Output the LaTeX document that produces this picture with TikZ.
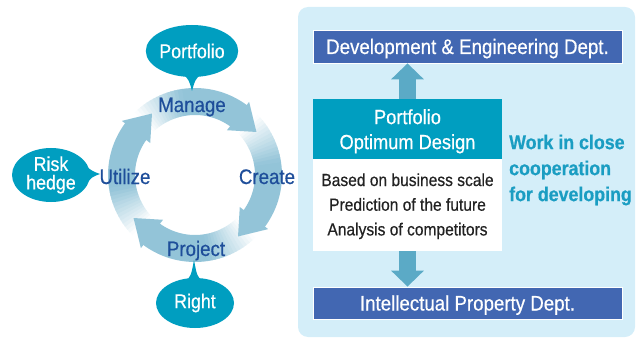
\documentclass[tikz,border=0pt]{standalone}
\usepackage{fontspec}
\setmainfont{Liberation Sans}[FakeStretch=0.89, FakeBold=0.5]
\usetikzlibrary{arrows.meta,shapes.geometric}
\definecolor{ringc}{HTML}{93C4D8}
\definecolor{tealc}{HTML}{009EC0}
\definecolor{deptc}{HTML}{4267B2}
\definecolor{panelc}{HTML}{D4EEF9}
\definecolor{arrc}{HTML}{5BAAC6}
\definecolor{labc}{HTML}{1E4E9A}
\definecolor{workc}{HTML}{1A9DC2}
\definecolor{bodyc}{HTML}{222222}
\begin{document}
\begin{tikzpicture}[x=1pt,y=-1pt,
  bubble/.style={ellipse, fill=tealc, text=white, inner sep=0pt,
    minimum width=78pt, minimum height=52pt, align=center,
    font=\fontsize{20}{18.5}\selectfont},
  ringlab/.style={text=labc, inner sep=0pt, anchor=base,
    font=\fontsize{21}{21}\selectfont},
  dept/.style={rectangle, fill=deptc, draw=white, line width=0.8pt,
    text=white, minimum width=309pt, minimum height=33pt, inner sep=0pt,
    text height=15pt, text depth=0pt, font=\fontsize{21}{21}\selectfont},
  bigarrow/.style={line width=17pt, draw=arrc,
    -{Triangle[width=32pt,length=16pt]}},
  txt/.style={inner sep=0pt}
]
\useasboundingbox (0,0) rectangle (636,339);
% right panel
\fill[panelc, rounded corners=10pt] (298,7) rectangle (635,337);

% ring
\begin{scope}[shift={(195,175)}, yscale=-1]
  \foreach \k in {0,...,3}{
    \pgfmathsetmacro\ta{134-90*\k}
    \pgfmathsetmacro\tb{53-90*\k}
    \pgfmathsetmacro\tf{\ta-35}
    \fill[ringc] (\tf:60) arc[start angle=\tf, end angle=\tb, radius=60]
      -- (\tb:87) arc[start angle=\tb, end angle=\tf, radius=87] -- cycle;
    \foreach \i in {0,...,13}{
      \pgfmathsetmacro\sa{\ta-\i*2.5}
      \pgfmathsetmacro\sb{\sa-3}
      \pgfmathtruncatemacro\p{100*(\i+0.5)/14}
      \fill[ringc!\p!white] (\sa:60) arc[start angle=\sa, end angle=\sb, radius=60]
        -- (\sb:87) arc[start angle=\sb, end angle=\sa, radius=87] -- cycle;
    }
  }
  \foreach \k in {0,...,3}{
    \pgfmathsetmacro\tb{53-90*\k}
    \pgfmathsetmacro\tbi{\tb+1.5}
    \pgfmathsetmacro\tbo{\tb+0.5}
    \pgfmathsetmacro\tt{\tb-18}
    \fill[ringc] (\tbi:55) -- (\tbo:91) -- (\tt:75) -- cycle;
  }
\end{scope}

% ring labels
\node[ringlab] (manage) at (192,112) {Manage};
\node[ringlab] (create) at (267,184) {Create};
\node[ringlab] (project) at (196,256) {Project};
\node[ringlab] (utilize) at (125,184) {Utilize};

% bubbles
\fill[tealc] (183,74) .. controls (189,80) .. (192,91) .. controls (195,80) .. (201,74) -- cycle;
\fill[tealc] (86,166) .. controls (92,171) .. (100,174) .. controls (92,177) .. (86,184) -- cycle;
\fill[tealc] (185,282) .. controls (191,276) .. (194,260) .. controls (197,276) .. (203,282) -- cycle;
\node[bubble] (pf) at (192,51) {Portfolio};
\node[bubble, minimum height=54pt] (risk) at (51,175) {Risk\\hedge};
\node[bubble, minimum height=50pt] (right) at (195,303) {Right};

% departments
\node[dept] (dev) at (467.5,46.5) {Development \& Engineering Dept.};
\node[dept, minimum height=32pt] (ip) at (467.5,303) {Intellectual Property Dept.};

% central box
\node[rectangle, fill=tealc, minimum width=189pt, minimum height=60pt, inner sep=0pt] (hd) at (407.5,129) {};
\node[rectangle, fill=white, minimum width=189pt, minimum height=92pt, inner sep=0pt] (bd) at (407.5,205) {};
\node[txt, text=white, align=center, font=\fontsize{20.5}{25}\selectfont] (hdt) at (407.5,131.3) {Portfolio\\Optimum Design};
\node[txt, text=bodyc, align=center, font=\fontsize{17.5}{24.7}\selectfont] (bdt) at (407.5,206.2) {Based on business scale\\Prediction of the future\\Analysis of competitors};

% arrows
\draw[bigarrow] (hd.north) -- (hd.north |- dev.south);
\draw[bigarrow] (bd.south) -- (bd.south |- ip.north);

% side text
\node[txt, anchor=west, text=workc, align=left, font=\bfseries\fontsize{20}{26}\selectfont] (work) at (509,170) {Work in close\\cooperation\\for developing};
\end{tikzpicture}
\end{document}
